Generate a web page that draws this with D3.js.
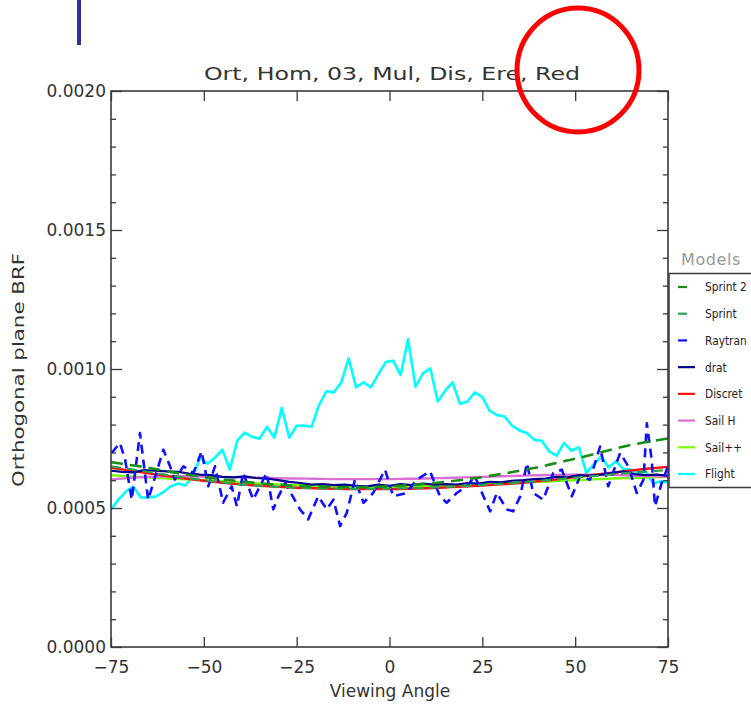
<!DOCTYPE html>
<html>
<head>
<meta charset="utf-8">
<script src="https://cdn.jsdelivr.net/npm/d3@7"></script>
<style>
  html, body { margin: 0; padding: 0; background: #fff; }
  svg { display: block; }
  text { font-family: "DejaVu Sans", sans-serif; }
</style>
</head>
<body>
<svg id="chart" width="751" height="706"></svg>
<script>
// ---------------- DATA ----------------
const chartTitle = "Ort, Hom, 03, Mul, Dis, Ere, Red";
const xLabel = "Viewing Angle";
const yLabel = "Orthogonal plane BRF";
const xTicks = [-75, -50, -25, 0, 25, 50, 75];
const yTicks = [0.0000, 0.0005, 0.0010, 0.0015, 0.0020];
const yMinorTicks = [0.0001, 0.0002, 0.0003, 0.0004, 0.0006, 0.0007, 0.0008, 0.0009,
                     0.0011, 0.0012, 0.0013, 0.0014, 0.0016, 0.0017, 0.0018, 0.0019];
const legendTitle = "Models";
const modelNames = ["Sprint 2", "Sprint", "Raytran", "drat", "Discret", "Sail H", "Sail++", "Flight"];

const smoothAngles = [-75, -70, -65, -60, -55, -50, -45, -40, -35, -30, -25, -20, -15, -10, -5, 0,
                      5, 10, 15, 20, 25, 30, 35, 40, 45, 50, 55, 60, 65, 70, 75];
const sprint2Values = [0.000665, 0.000655, 0.000645, 0.000632, 0.000621, 0.000612, 0.000603, 0.000596,
                       0.000589, 0.000584, 0.000580, 0.000577, 0.000575, 0.000575, 0.000576, 0.000578,
                       0.000582, 0.000587, 0.000594, 0.000602, 0.000611, 0.000622, 0.000634, 0.000647,
                       0.000662, 0.000677, 0.000694, 0.000711, 0.000727, 0.000739, 0.000750];
const sprintValues = [0.000650, 0.000640, 0.000630, 0.000619, 0.000609, 0.000600, 0.000592, 0.000585,
                      0.000580, 0.000576, 0.000573, 0.000571, 0.000570, 0.000569, 0.000569, 0.000570,
                      0.000571, 0.000573, 0.000576, 0.000579, 0.000583, 0.000587, 0.000592, 0.000597,
                      0.000603, 0.000609, 0.000615, 0.000621, 0.000627, 0.000632, 0.000637];
const discretValues = [0.000645, 0.000635, 0.000625, 0.000615, 0.000606, 0.000598, 0.000591, 0.000585,
                       0.000580, 0.000576, 0.000573, 0.000571, 0.000569, 0.000568, 0.000568, 0.000568,
                       0.000569, 0.000571, 0.000574, 0.000577, 0.000581, 0.000585, 0.000590, 0.000596,
                       0.000603, 0.000611, 0.000619, 0.000627, 0.000635, 0.000642, 0.000648];
const sailHValues = [0.000603, 0.000608, 0.000612, 0.000614, 0.000614, 0.000613, 0.000612, 0.000610,
                     0.000609, 0.000607, 0.000606, 0.000605, 0.000604, 0.000604, 0.000604, 0.000604,
                     0.000605, 0.000606, 0.000608, 0.000610, 0.000612, 0.000614, 0.000616, 0.000618,
                     0.000619, 0.000620, 0.000620, 0.000619, 0.000617, 0.000615, 0.000612];
const sailPPValues = [0.000618, 0.000614, 0.000610, 0.000606, 0.000603, 0.000600, 0.000596, 0.000592,
                      0.000588, 0.000585, 0.000582, 0.000580, 0.000578, 0.000577, 0.000576, 0.000576,
                      0.000577, 0.000578, 0.000580, 0.000583, 0.000585, 0.000588, 0.000591, 0.000594,
                      0.000597, 0.000600, 0.000603, 0.000606, 0.000608, 0.000610, 0.000612];

const dratAngles = [-75, -72, -69, -66, -63, -60, -57, -54, -51, -48, -45, -42, -39, -36, -33, -30, -27,
                    -24, -21, -18, -15, -12, -9, -6, -3, 0, 3, 6, 9, 12, 15, 18, 21, 24, 27, 30, 33,
                    36, 39, 42, 45, 48, 51, 54, 57, 60, 63, 66, 69, 72, 75];
const dratValues = [0.000634, 0.000630, 0.000628, 0.000636, 0.000634, 0.000632, 0.000630, 0.000624,
                    0.000620, 0.000618, 0.000612, 0.000610, 0.000614, 0.000608, 0.000606, 0.000600,
                    0.000594, 0.000590, 0.000584, 0.000586, 0.000582, 0.000584, 0.000580, 0.000578,
                    0.000584, 0.000580, 0.000586, 0.000582, 0.000588, 0.000584, 0.000586, 0.000584,
                    0.000590, 0.000588, 0.000594, 0.000592, 0.000598, 0.000600, 0.000604, 0.000606,
                    0.000612, 0.000610, 0.000618, 0.000616, 0.000620, 0.000626, 0.000632, 0.000622,
                    0.000618, 0.000620, 0.000616];

const raytranAngles = [-74.8, -72.6, -71.2, -69.4, -67.2, -65.0, -63.6, -60.9, -59.1, -57.8, -55.5, -52.8,
                       -50.6, -48.8, -47.0, -44.8, -42.5, -41.1, -39.4, -36.7, -33.1, -31.3, -29.9, -28.1,
                       -24.1, -21.9, -19.2, -16.9, -15.1, -13.3, -11.5, -9.3, -7.0, -4.4, -1.2, 1.0,
                       4.6, 7.3, 10.9, 13.6, 15.4, 18.1, 20.8, 23.0, 25.3, 27.1, 28.9, 31.6, 33.3, 35.2,
                       37.0, 38.7, 41.4, 44.1, 46.4, 49.1, 51.3, 54.0, 56.7, 58.9, 62.1, 64.3, 66.6,
                       68.4, 69.3, 70.6, 71.5, 73.3, 75.0];
const raytranValues = [0.000698, 0.000734, 0.000674, 0.000530, 0.000770, 0.000530, 0.000590, 0.000710,
                       0.000650, 0.000602, 0.000650, 0.000626, 0.000704, 0.000578, 0.000650, 0.000519,
                       0.000578, 0.000506, 0.000626, 0.000530, 0.000626, 0.000495, 0.000542, 0.000590,
                       0.000495, 0.000459, 0.000542, 0.000495, 0.000530, 0.000435, 0.000483, 0.000602,
                       0.000519, 0.000554, 0.000638, 0.000542, 0.000554, 0.000602, 0.000632, 0.000542,
                       0.000519, 0.000554, 0.000578, 0.000614, 0.000542, 0.000488, 0.000554, 0.000495,
                       0.000488, 0.000542, 0.000662, 0.000554, 0.000530, 0.000626, 0.000638, 0.000542,
                       0.000614, 0.000602, 0.000721, 0.000578, 0.000698, 0.000650, 0.000554, 0.000602,
                       0.000805, 0.000674, 0.000506, 0.000590, 0.000650];

const flightAngles = [-75, -73, -71, -69, -67, -65, -63, -61, -59, -57, -55, -53, -51, -49, -47, -45,
                      -43, -41, -39, -37, -35, -33, -31, -29, -27, -25, -23, -21, -19, -17, -15, -13,
                      -11, -9, -7, -5, -3, -1, 1, 3, 5, 7, 9, 11, 13, 15, 17, 19, 21, 23, 25, 27, 29,
                      31, 33, 35, 37, 39, 41, 43, 45, 47, 49, 51, 53, 55, 57, 59, 61, 63, 65, 67, 69,
                      71, 73, 75];
const flightValues = [0.000495, 0.000530, 0.000559, 0.000577, 0.000538, 0.000538, 0.000541, 0.000556,
                      0.000577, 0.000588, 0.000581, 0.000613, 0.000681, 0.000659, 0.000681, 0.000710,
                      0.000638, 0.000742, 0.000771, 0.000756, 0.000749, 0.000792, 0.000753, 0.000860,
                      0.000753, 0.000796, 0.000797, 0.000792, 0.000869, 0.000920, 0.000916, 0.000951,
                      0.001038, 0.000934, 0.000952, 0.000934, 0.000981, 0.001025, 0.001030, 0.000978,
                      0.001107, 0.000936, 0.000984, 0.001002, 0.000883, 0.000922, 0.000952, 0.000874,
                      0.000883, 0.000916, 0.000899, 0.000849, 0.000834, 0.000829, 0.000796, 0.000779,
                      0.000770, 0.000745, 0.000742, 0.000704, 0.000688, 0.000734, 0.000706, 0.000719,
                      0.000626, 0.000656, 0.000686, 0.000646, 0.000668, 0.000640, 0.000638, 0.000626,
                      0.000632, 0.000587, 0.000596, 0.000592];

// ---------------- DRAWING ----------------
const svg = d3.select("#chart");
const L = 111, R = 668, T = 91, B = 647;
const x = d3.scaleLinear().domain([-75, 75]).range([L, R]);
const y = d3.scaleLinear().domain([0, 0.002]).range([B, T]);
const axisColor = "#3a3a3a";
const textColor = "#333";

const zip = (a, b) => a.map((v, i) => [v, b[i]]);
const series = [
  { name: "Sprint 2", angles: smoothAngles, values: sprint2Values, color: "#1a8c1a", width: 2.6, dash: "12,7", curve: d3.curveMonotoneX },
  { name: "Sprint",   angles: smoothAngles, values: sprintValues,  color: "#2ea050", width: 2.2, dash: "10,6", curve: d3.curveMonotoneX },
  { name: "Raytran",  angles: raytranAngles, values: raytranValues, color: "#1010ff", width: 2.6, dash: "9,6", curve: d3.curveLinear },
  { name: "drat",     angles: dratAngles, values: dratValues, color: "#00008b", width: 2.2, dash: null, curve: d3.curveLinear },
  { name: "Discret",  angles: smoothAngles, values: discretValues, color: "#ff1010", width: 2.4, dash: null, curve: d3.curveMonotoneX },
  { name: "Sail H",   angles: smoothAngles, values: sailHValues, color: "#da70d6", width: 2.4, dash: null, curve: d3.curveMonotoneX },
  { name: "Sail++",   angles: smoothAngles, values: sailPPValues, color: "#7cfc00", width: 2.4, dash: null, curve: d3.curveMonotoneX },
  { name: "Flight",   angles: flightAngles, values: flightValues, color: "#00ffff", width: 2.6, dash: null, curve: d3.curveLinear }
];

// decoration: blue bar and red circle
svg.append("rect").attr("x", 77).attr("y", 0).attr("width", 4).attr("height", 45).attr("fill", "#2e3192");

// clip path
svg.append("clipPath").attr("id", "plotclip")
  .append("rect").attr("x", L).attr("y", T).attr("width", R - L).attr("height", B - T);

// lines (drawn in reverse legend order so Sprint 2 is on top)
const linesG = svg.append("g").attr("clip-path", "url(#plotclip)");
series.slice().reverse().forEach(s => {
  const line = d3.line().x(d => x(d[0])).y(d => y(d[1])).curve(s.curve);
  linesG.append("path")
    .datum(zip(s.angles, s.values))
    .attr("d", line)
    .attr("fill", "none")
    .attr("stroke", s.color)
    .attr("stroke-width", s.width)
    .attr("stroke-linejoin", "round")
    .attr("stroke-dasharray", s.dash);
});

// frame
svg.append("rect").attr("x", L).attr("y", T).attr("width", R - L).attr("height", B - T)
  .attr("fill", "none").attr("stroke", axisColor).attr("stroke-width", 1.6);

// axes
const xAxisB = d3.axisBottom(x).tickValues(xTicks).tickSize(-10).tickFormat(d => d < 0 ? "\u2212" + Math.abs(d) : d);
const gxb = svg.append("g").attr("transform", `translate(0,${B})`).call(xAxisB);
const xAxisT = d3.axisTop(x).tickValues(xTicks).tickSize(-10).tickFormat("");
const gxt = svg.append("g").attr("transform", `translate(0,${T})`).call(xAxisT);
const yAxisL = d3.axisLeft(y).tickValues(yTicks).tickSize(-11).tickFormat(d3.format(".4f"));
const gyl = svg.append("g").attr("transform", `translate(${L},0)`).call(yAxisL);
const yAxisR = d3.axisRight(y).tickValues(yTicks).tickSize(-11).tickFormat("");
const gyr = svg.append("g").attr("transform", `translate(${R},0)`).call(yAxisR);
const yMinL = d3.axisLeft(y).tickValues(yMinorTicks).tickSize(-5).tickFormat("");
const gyml = svg.append("g").attr("transform", `translate(${L},0)`).call(yMinL);
const yMinR = d3.axisRight(y).tickValues(yMinorTicks).tickSize(-5).tickFormat("");
const gymr = svg.append("g").attr("transform", `translate(${R},0)`).call(yMinR);

[gxb, gxt, gyl, gyr, gyml, gymr].forEach(g => {
  g.select(".domain").remove();
  g.selectAll(".tick line").attr("stroke", axisColor).attr("stroke-width", 1.3);
});
gxb.selectAll(".tick text").attr("fill", textColor).attr("font-size", 17)
  .attr("font-family", "DejaVu Sans, sans-serif").attr("y", 14);
gyl.selectAll(".tick text").attr("fill", textColor).attr("font-size", 17)
  .attr("font-family", "DejaVu Sans, sans-serif").attr("x", -5);

// title and axis labels
svg.append("text").attr("x", 392).attr("y", 80).attr("text-anchor", "middle")
  .attr("font-size", 18).attr("fill", textColor)
  .attr("textLength", 376).attr("lengthAdjust", "spacingAndGlyphs")
  .text(chartTitle);
svg.append("text").attr("x", 390).attr("y", 697).attr("text-anchor", "middle")
  .attr("font-size", 17).attr("fill", textColor)
  .text(xLabel);
svg.append("text").attr("transform", "translate(24,370) rotate(-90)").attr("text-anchor", "middle")
  .attr("font-size", 16).attr("fill", textColor)
  .attr("textLength", 234).attr("lengthAdjust", "spacingAndGlyphs")
  .text(yLabel);

// legend
svg.append("text").attr("x", 681).attr("y", 265).attr("font-size", 16).attr("fill", "#999")
  .attr("letter-spacing", 0.6).text(legendTitle);
svg.append("rect").attr("x", 669).attr("y", 273.5).attr("width", 100).attr("height", 214)
  .attr("fill", "#fff").attr("stroke", axisColor).attr("stroke-width", 1.5);
const legY = d3.scalePoint().domain(modelNames).range([287, 474]);
series.forEach(s => {
  const cy = legY(s.name);
  const dashed = s.dash !== null;
  svg.append("line").attr("x1", 678).attr("x2", dashed ? 687 : 695)
    .attr("y1", cy).attr("y2", cy).attr("stroke", s.color).attr("stroke-width", 2.2);
  svg.append("text").attr("x", 705).attr("y", cy + 4.5).attr("font-size", 12.5).attr("fill", "#222")
    .attr("transform", `translate(${705 * 0.15},0) scale(0.85,1)`)
    .text(s.name);
});

svg.append("ellipse").attr("cx", 578).attr("cy", 70).attr("rx", 61).attr("ry", 62)
  .attr("fill", "none").attr("stroke", "#ff0000").attr("stroke-width", 5);
</script>
</body>
</html>
